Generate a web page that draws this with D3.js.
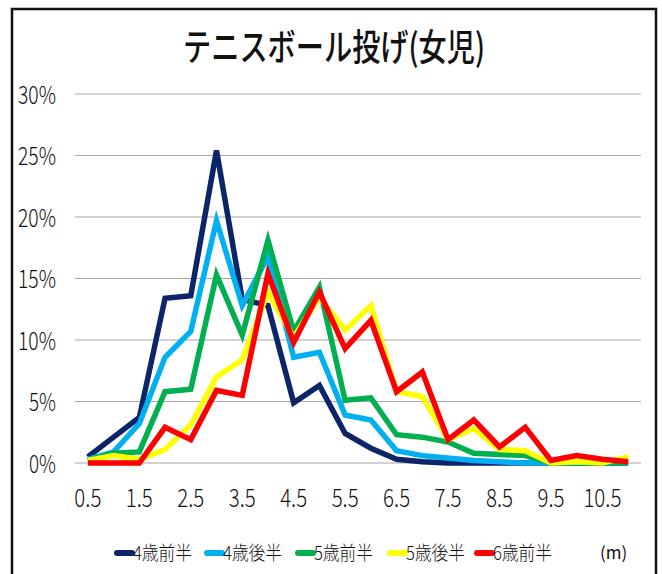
<!DOCTYPE html>
<html>
<head>
<meta charset="utf-8">
<script src="https://cdn.jsdelivr.net/npm/d3@7"></script>
<style>
  body { margin: 0; background: #fff; }
  text { fill: #111; }
</style>
</head>
<body>
<div id="chart"></div>
<script>
const w = 662, h = 574;

const distances = ["0.5","1","1.5","2","2.5","3","3.5","4","4.5","5","5.5","6","6.5","7","7.5","8","8.5","9","9.5","10","10.5","11"];
const seriesNames = ["4歳前半","4歳後半","5歳前半","5歳後半","6歳前半"];
const seriesColors = ["#0c2468","#00b0f0","#00b050","#ffff00","#ff0000"];

// percentages per 0.5m bucket
const age4a = [0.5,2.1,3.7,13.4,13.6,25.4,13.3,12.8,4.9,6.3,2.4,1.2,0.3,0.1,0,0,0,0,0,0,0,0];
const age4b = [0.3,0.9,3.2,8.6,10.7,19.7,12.8,16.8,8.6,9.0,3.9,3.5,1.0,0.6,0.4,0.2,0.1,0,0,0,0,0];
const age5a = [0.2,0.8,0.9,5.8,6.0,15.3,10.4,18.1,10.7,14.3,5.1,5.3,2.3,2.1,1.7,0.8,0.7,0.6,0,0,0,0];
const age5b = [0.2,0.6,0.3,1.1,3.1,7.0,8.4,13.9,10.2,13.5,10.8,12.8,5.8,5.4,1.9,2.8,1.1,1.0,0,0.1,0,0.5];
const age6a = [0,0,0,2.9,1.9,5.9,5.5,15.4,9.8,13.9,9.3,11.6,5.8,7.4,1.9,3.5,1.3,2.9,0.2,0.6,0.3,0.1];

const yTicks = [0,5,10,15,20,25,30];
const series = [age4a, age4b, age5a, age5b, age6a];

const svg = d3.select("#chart").append("svg")
  .attr("width", w).attr("height", h)
  .attr("viewBox", "0 0 " + w + " " + h);

// frame
svg.append("rect").attr("x", 12).attr("y", 9).attr("width", 644).attr("height", 580)
  .style("fill", "#fff").style("stroke", "#111").style("stroke-width", 2.5);

const x = d3.scaleBand().domain(distances).range([75, 641]).paddingInner(0).paddingOuter(0);
const y = d3.scaleLinear().domain([0, 30]).range([463, 94]);

const jpFont = "'Noto Sans CJK JP',sans-serif";

// narrow numerals: squeeze each label to a width per character
const narrowWidth = s => s.split("").reduce((a, c) => a + (c === "." ? 5 : c === "%" ? 16 : 11), 0);

// gridlines
svg.append("g").selectAll(null).data(yTicks).enter().append("line")
  .attr("x1", 75).attr("x2", 641)
  .attr("y1", d => y(d)).attr("y2", d => y(d))
  .style("stroke", "#a6a6a6").style("stroke-width", 1.2);

// y labels
const yAxis = svg.append("g").attr("transform", "translate(56,0)")
  .call(d3.axisLeft(y).tickValues(yTicks).tickSize(0).tickFormat(d => d + "%"));
yAxis.select(".domain").remove();
yAxis.selectAll("text").attr("x", 0).attr("dy", "0.36em")
  .attr("textLength", d => narrowWidth(d + "%")).attr("lengthAdjust", "spacingAndGlyphs")
  .style("font-family", jpFont).style("font-size", "25px").style("font-weight", 300).style("fill", "#111");

// x labels
const xAxis = svg.append("g").attr("transform", "translate(0,463)")
  .call(d3.axisBottom(x).tickValues(distances.filter((d, i) => i % 2 === 0)).tickSize(0));
xAxis.select(".domain").remove();
xAxis.selectAll("text").attr("y", 44).attr("dy", "0")
  .attr("textLength", d => narrowWidth(d)).attr("lengthAdjust", "spacingAndGlyphs")
  .style("font-family", jpFont).style("font-size", "25px").style("font-weight", 300).style("fill", "#111");

// lines
const line = d3.line()
  .x((d, i) => x(distances[i]) + x.bandwidth() / 2)
  .y(d => y(d));

svg.append("g").selectAll(null).data(series).enter().append("path")
  .attr("d", line)
  .style("fill", "none")
  .style("stroke", (d, i) => seriesColors[i])
  .style("stroke-width", 5.5)
  .style("stroke-linejoin", "miter");

// title
svg.append("text").attr("x", 334).attr("y", 61).attr("text-anchor", "middle")
  .attr("textLength", 302).attr("lengthAdjust", "spacingAndGlyphs")
  .style("font-family", jpFont).style("font-size", "37px").style("font-weight", 500)
  .text("テニスボール投げ(女児)");

// legend
const legendX = [114, 204, 295, 387, 474];
const legend = svg.append("g").selectAll(null).data(seriesNames).enter().append("g")
  .attr("transform", (d, i) => "translate(" + legendX[i] + ",553)");
legend.append("line").attr("x1", 3).attr("x2", 18).attr("y1", 0).attr("y2", 0)
  .style("stroke", (d, i) => seriesColors[i]).style("stroke-width", 6)
  .style("stroke-linecap", "round");
legend.append("text").attr("x", 19).attr("dy", "0.36em")
  .attr("textLength", 59).attr("lengthAdjust", "spacingAndGlyphs")
  .style("font-family", jpFont).style("font-size", "19px").style("font-weight", 300)
  .text(d => d);

svg.append("text").attr("x", 600).attr("y", 553).attr("dy", "0.36em")
  .style("font-family", jpFont).style("font-size", "17px")
  .text("(m)");
</script>
</body>
</html>
